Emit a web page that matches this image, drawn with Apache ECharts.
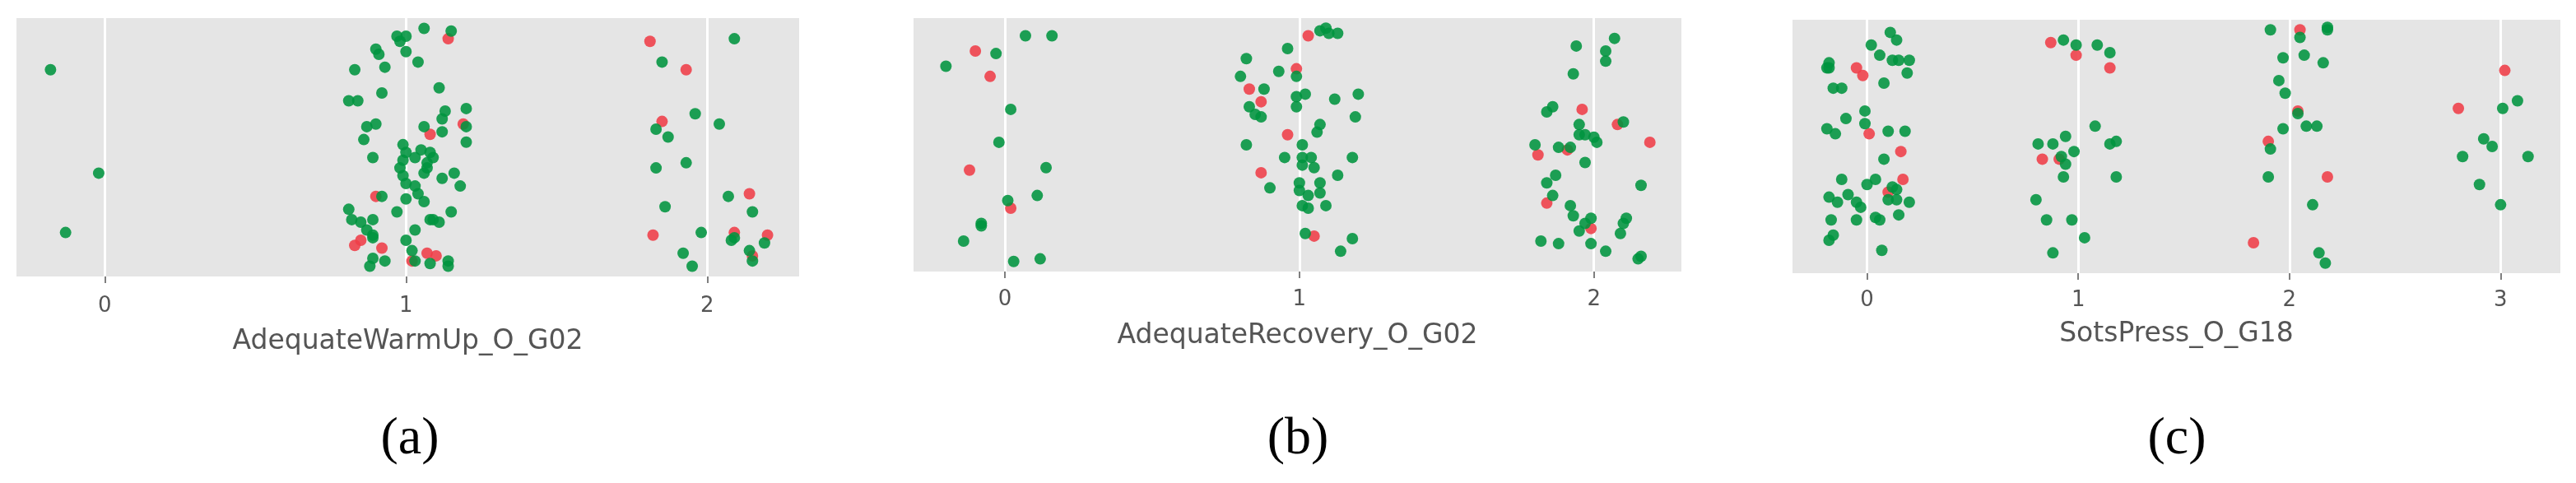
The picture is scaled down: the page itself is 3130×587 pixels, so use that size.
<!DOCTYPE html>
<html>
<head>
<meta charset="utf-8">
<script src="https://cdn.jsdelivr.net/npm/echarts@6/dist/echarts.min.js"></script>
<style>
  html, body { margin: 0; padding: 0; background: #fff; }
  #chart { width: 3130px; height: 587px; }
</style>
</head>
<body>
<div id="chart"></div>
<script>
// each point: [category + jitter, vertical jitter 0..100]
const warmUpRed = [
  [1.14, 92], [1.19, 59], [1.08, 55], [0.90, 31], [0.85, 14], [0.83, 12], [0.92, 11], [1.07, 9],
  [1.10, 8], [1.02, 6], [1.81, 91], [1.93, 80], [1.85, 60], [2.14, 32], [1.82, 16], [2.09, 17],
  [2.20, 16], [2.15, 8]
]
const warmUpGreen = [
  [-0.18, 80], [-0.02, 40], [-0.13, 17],
  [1.06, 96], [1.15, 95], [0.97, 93], [1.00, 93], [0.98, 91], [0.90, 88], [0.91, 86], [1.00, 87],
  [1.04, 83], [0.83, 80], [0.93, 81], [1.11, 73], [0.92, 71], [0.81, 68], [0.84, 68], [1.20, 65],
  [1.13, 64], [1.12, 61], [0.90, 59], [0.87, 58], [1.06, 58], [1.20, 58], [1.12, 56], [0.86, 53],
  [1.20, 52], [0.99, 51], [1.00, 48], [1.05, 49], [1.08, 48], [1.09, 46], [0.89, 46], [1.03, 46],
  [0.99, 45], [1.07, 44], [1.07, 42], [0.98, 42], [0.99, 39], [1.06, 40], [1.16, 40], [1.12, 38],
  [1.00, 36], [1.03, 35], [1.18, 35], [1.04, 32], [0.92, 31], [1.00, 30], [1.06, 29], [0.81, 26],
  [0.82, 22], [0.85, 21], [0.89, 22], [0.97, 25], [1.15, 25], [1.08, 22], [1.11, 21], [1.09, 22],
  [0.87, 18], [0.89, 16], [1.03, 18], [1.00, 14], [0.89, 15], [1.02, 10], [1.03, 6], [0.89, 7],
  [0.93, 6], [1.08, 5], [1.14, 6], [1.14, 4], [0.88, 4],
  [2.09, 92], [1.85, 83], [1.96, 63], [2.04, 59], [1.83, 57], [1.87, 54], [1.93, 44], [1.83, 42],
  [2.07, 31], [1.86, 27], [2.15, 25], [1.98, 17], [2.09, 15], [2.08, 14], [2.19, 13], [2.14, 10],
  [2.15, 6], [1.92, 9], [1.95, 4]
]
const recoveryRed = [
  [-0.10, 87], [-0.05, 77], [-0.12, 40], [0.02, 25],
  [1.03, 93], [0.99, 80], [0.83, 72], [0.87, 67], [0.96, 54], [0.87, 39], [1.05, 14],
  [1.96, 64], [2.08, 58], [2.19, 51], [1.81, 46], [1.91, 48], [1.84, 27], [1.99, 17]
]
const recoveryGreen = [
  [0.07, 93], [0.16, 93], [-0.03, 86], [-0.20, 81], [0.02, 64], [-0.02, 51], [0.14, 41], [0.11, 30],
  [0.01, 28], [-0.08, 19], [-0.08, 18], [-0.14, 12], [0.12, 5], [0.03, 4],
  [1.07, 95], [1.09, 96], [1.10, 94], [1.13, 94], [0.96, 88], [0.82, 84], [0.99, 77], [0.93, 79],
  [0.80, 77], [0.88, 72], [0.99, 69], [1.02, 70], [1.20, 70], [1.12, 68], [0.99, 65], [0.83, 65],
  [0.85, 62], [0.87, 61], [1.19, 61], [1.07, 58], [1.06, 55], [0.82, 50], [1.01, 50], [0.95, 45],
  [1.01, 45], [1.04, 45], [1.18, 45], [1.01, 42], [1.05, 41], [1.13, 38], [0.90, 33], [1.00, 35],
  [1.00, 32], [1.07, 35], [1.07, 31], [1.03, 30], [1.01, 26], [1.03, 25], [1.09, 26], [1.02, 15],
  [1.18, 13], [1.14, 8],
  [2.07, 92], [1.94, 89], [2.04, 87], [2.04, 83], [1.93, 78], [1.86, 65], [1.84, 63], [2.10, 59],
  [1.95, 58], [1.95, 54], [1.97, 54], [2.00, 53], [2.01, 51], [1.80, 50], [1.88, 49], [1.92, 49],
  [1.97, 43], [1.87, 38], [1.84, 35], [2.16, 34], [1.86, 30], [1.92, 26], [1.93, 22], [1.99, 21],
  [1.97, 19], [1.95, 16], [2.11, 21], [2.10, 19], [2.09, 15], [1.82, 12], [1.88, 11], [1.99, 11],
  [2.04, 8], [2.16, 6], [2.15, 5]
]
const sotsRed = [
  [-0.05, 81], [-0.02, 78], [0.01, 55], [0.16, 48], [0.17, 37], [0.10, 32],
  [0.87, 91], [0.99, 86], [1.15, 81], [0.83, 45], [0.91, 45],
  [2.05, 96], [2.04, 64], [1.90, 52], [2.18, 38], [1.83, 12],
  [3.02, 80], [2.80, 65]
]
const sotsGreen = [
  [0.11, 95], [0.14, 92], [0.02, 90], [0.06, 86], [-0.18, 83], [-0.19, 81], [-0.18, 81], [0.12, 84],
  [0.15, 84], [0.20, 84], [0.19, 79], [0.08, 75], [-0.16, 73], [-0.12, 73], [-0.01, 64], [-0.10, 61],
  [-0.01, 59], [-0.19, 57], [-0.15, 55], [0.10, 56], [0.18, 56], [0.08, 45], [-0.12, 37], [0.00, 35],
  [0.04, 37], [0.12, 34], [0.14, 33], [0.10, 29], [0.14, 29], [-0.09, 31], [-0.18, 30], [-0.14, 28],
  [-0.05, 28], [-0.03, 26], [0.20, 28], [0.04, 22], [0.06, 21], [0.15, 23], [-0.05, 21], [-0.17, 21],
  [-0.16, 15], [-0.18, 13], [0.07, 9],
  [0.93, 92], [0.99, 90], [1.09, 90], [1.15, 87], [1.08, 58], [0.94, 54], [0.81, 51], [0.88, 51],
  [1.15, 51], [1.18, 52], [0.98, 48], [0.92, 46], [0.94, 43], [0.93, 38], [1.18, 38], [0.80, 29],
  [0.85, 21], [0.97, 21], [1.03, 14], [0.88, 8],
  [1.91, 96], [2.05, 93], [2.18, 96], [2.18, 97], [1.97, 85], [2.07, 86], [2.16, 83], [1.95, 76],
  [1.98, 71], [2.04, 63], [1.97, 57], [2.08, 58], [2.13, 58], [1.91, 49], [1.90, 38], [2.11, 27],
  [2.14, 8], [2.17, 4],
  [3.08, 68], [3.01, 65], [2.92, 53], [2.96, 50], [2.82, 46], [3.13, 46], [2.90, 35], [3.00, 27]
]

const warmUpTicks = [0, 1, 2]
const recoveryTicks = [0, 1, 2]
const sotsTicks = [0, 1, 2, 3]
const axisTitles = ['AdequateWarmUp_O_G02', 'AdequateRecovery_O_G02', 'SotsPress_O_G18']
const captions = ['(a)', '(b)', '(c)']

const GREEN = '#00943f'
const RED = '#ef3d48'
const TEXT = '#555555'

function xAxisFor(idx, ticks, min, max, labelMargin, nameGap) {
  return {
    type: 'value',
    gridIndex: idx,
    min: min,
    max: max,
    offset: 6,
    name: axisTitles[idx],
    nameLocation: 'middle',
    nameGap: nameGap,
    nameTextStyle: { fontFamily: 'DejaVu Sans', fontSize: 33, color: TEXT },
    axisLine: { show: false },
    axisTick: { show: true, customValues: ticks, length: 8, lineStyle: { color: TEXT, width: 1.5 } },
    axisLabel: { customValues: ticks, margin: labelMargin, fontFamily: 'DejaVu Sans', fontSize: 26, color: TEXT },
    splitLine: { show: true, lineStyle: { color: '#ffffff', width: 3 } }
  }
}

function yAxisFor(idx) {
  return { type: 'value', gridIndex: idx, min: 0, max: 100, show: false, splitLine: { show: false } }
}

function dots(idx, data, color, z) {
  return {
    type: 'scatter',
    xAxisIndex: idx,
    yAxisIndex: idx,
    data: data,
    symbolSize: 14,
    z: z,
    silent: true,
    itemStyle: { color: color, opacity: 0.88 }
  }
}

const gridStyle = { show: true, backgroundColor: '#e5e5e5', borderWidth: 0 }

const chart = echarts.init(document.getElementById('chart'), null, { renderer: 'canvas' })

const option = {
  backgroundColor: '#ffffff',
  animation: false,
  grid: [
    Object.assign({ left: 20, top: 22, width: 951, height: 314 }, gridStyle),
    Object.assign({ left: 1110, top: 22, width: 933, height: 308 }, gridStyle),
    Object.assign({ left: 2178, top: 24, width: 933, height: 308 }, gridStyle)
  ],
  xAxis: [
    xAxisFor(0, warmUpTicks, -0.293, 2.305, 17, 57),
    xAxisFor(1, recoveryTicks, -0.31, 2.297, 15, 56),
    xAxisFor(2, sotsTicks, -0.353, 3.283, 14, 52)
  ],
  yAxis: [yAxisFor(0), yAxisFor(1), yAxisFor(2)],
  series: [
    dots(0, warmUpRed, RED, 2),
    dots(0, warmUpGreen, GREEN, 3),
    dots(1, recoveryRed, RED, 2),
    dots(1, recoveryGreen, GREEN, 3),
    dots(2, sotsRed, RED, 2),
    dots(2, sotsGreen, GREEN, 3)
  ],
  graphic: [498, 1577, 2645].map((cx, i) => ({
    type: 'text',
    x: cx,
    y: 534,
    style: {
      text: captions[i],
      fontFamily: 'Liberation Serif',
      fontSize: 64,
      fill: '#000000',
      textAlign: 'center',
      textVerticalAlign: 'middle'
    }
  }))
}

chart.setOption(option)
window.addEventListener('resize', () => chart.resize())
</script>
</body>
</html>
